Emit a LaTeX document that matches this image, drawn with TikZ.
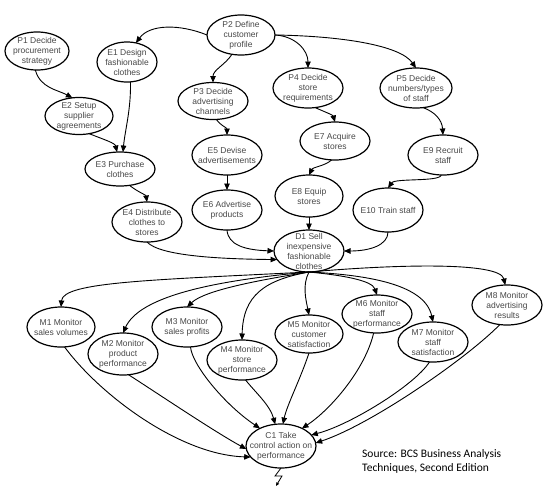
\documentclass[tikz,border=0pt]{standalone}
\usepackage{fontspec}
\setmainfont{Liberation Sans}
\newfontfamily\srcfont{Carlito}
\usetikzlibrary{shapes.geometric,arrows.meta}
\tikzset{
  ell/.style={draw=black, ellipse, line width=1.2pt, inner sep=0pt, outer sep=0pt},
  lbl/.style={font=\fontsize{8.5}{10}\selectfont, text=black!72, align=center, inner sep=0pt},
  arr/.style={line width=0.9pt, -{Triangle[length=6.5pt,width=5.5pt]}},
  src/.style={font=\srcfont\fontsize{11.5}{14.7}\selectfont, align=left, inner sep=0pt, text=black}
}
\newcommand{\enode}[5]{%
  \node[ell, minimum width=#3pt, minimum height=#4pt] (#1) at (#2) {};
  \node[lbl] (#1t) at (#1) {#5};}
\begin{document}
\begin{tikzpicture}[x=1pt,y=1pt]
\useasboundingbox (0,0) rectangle (549,-493);
% nodes
\enode{p1}{37,-51}{64}{38}{P1 Decide\\procurement\\strategy}
\enode{e1}{127,-62}{60}{40}{E1 Design\\fashionable\\clothes}
\enode{p2}{241,-35}{68}{40}{P2 Define\\customer\\profile}
\enode{e2}{79,-116}{68}{37}{E2 Setup\\supplier\\agreements}
\enode{p3}{213,-101}{70}{37}{P3 Decide\\advertising\\channels}
\enode{p4}{308,-88}{70}{40}{P4 Decide\\store\\requirements}
\enode{p5}{416,-88}{72}{40}{P5 Decide\\numbers/types\\of staff}
\enode{e3}{120,-169}{70}{34}{E3 Purchase\\clothes}
\enode{e4}{147,-222}{70}{40}{E4 Distribute\\clothes to\\stores}
\enode{e5}{227,-155}{70}{40}{E5 Devise\\advertisements}
\enode{e6}{227,-210}{70}{40}{E6 Advertise\\products}
\enode{e7}{335,-141}{70}{38}{E7 Acquire\\stores}
\enode{e9}{443,-155}{70}{40}{E9 Recruit\\staff}
\enode{e8}{309,-196}{68}{42}{E8 Equip\\stores}
\enode{e10}{388,-210}{70}{44}{E10 Train staff}
\enode{d1}{309,-251}{70}{42}{D1 Sell\\inexpensive\\fashionable\\clothes}
\enode{m1}{61,-327}{68}{40}{M1 Monitor\\sales volumes}
\enode{m2}{123,-354}{70}{42}{M2 Monitor\\product\\performance}
\enode{m3}{187,-327}{70}{40}{M3 Monitor\\sales profits}
\enode{m4}{242,-360}{70}{40}{M4 Monitor\\store\\performance}
\enode{m5}{309,-334}{68}{38}{M5 Monitor\\customer\\satisfaction}
\enode{m6}{377,-314}{70}{38}{M6 Monitor\\staff\\performance}
\enode{m7}{433,-342}{70}{40}{M7 Monitor\\staff\\satisfaction}
\enode{m8}{507,-305}{70}{40}{M8 Monitor\\advertising\\results}
\enode{c1}{281,-446}{70}{44}{C1 Take\\control action on\\performance}
\node[src, anchor=north west] (src) at (362,-449) {Source: BCS Business Analysis\\Techniques, Second Edition};
% upper edges
\draw[arr] (p2.west) .. controls (180,-24) and (150,-24) .. (e1.65);
\draw[arr] (p2.-115) .. controls (225,-65) and (213,-70) .. (p3.north);
\draw[arr] (p2.east) .. controls (295,-36) and (308,-50) .. (p4.north);
\draw[arr] (p2.east) .. controls (340,-36) and (400,-45) .. (p5.north);
\draw[arr] (p1.-95) .. controls (40,-88) and (58,-90) .. (e2.110);
\draw[arr] (e2.-60) .. controls (105,-140) and (115,-143) .. (e3.100);
\draw[arr] (e1.-80) .. controls (131,-110) and (125,-130) .. (e3.80);
\draw[arr] (e3.-60) .. controls (138,-192) and (146,-195) .. (e4.north);
\draw[arr] (e4.south) .. controls (160,-256) and (220,-259) .. (d1.195);
\draw[arr] (e6.south) .. controls (228,-245) and (245,-250) .. (d1.west);
\draw[arr] (e10.south) .. controls (388,-245) and (370,-251) .. (d1.east);
\draw[arr] (e8.south) -- (d1.north);
\draw[arr] (e7.-100) .. controls (325,-166) and (313,-167) .. (e8.north);
\draw[arr] (e9.-95) .. controls (440,-182) and (395,-178) .. (e10.north);
\draw[arr] (p4.-70) .. controls (325,-112) and (333,-115) .. (e7.north);
\draw[arr] (p5.-70) .. controls (435,-112) and (442,-120) .. (e9.north);
\draw[arr] (p3.-80) .. controls (220,-125) and (227,-128) .. (e5.north);
\draw[arr] (e5.south) -- (e6.north);
% D1 to monitors
\draw[arr] (d1.south) .. controls (150,-280) and (63,-282) .. (m1.north);
\draw[arr] (d1.south) .. controls (220,-280) and (140,-295) .. (m2.north);
\draw[arr] (d1.south) .. controls (260,-280) and (205,-290) .. (m3.north);
\draw[arr] (d1.south) .. controls (265,-280) and (243,-295) .. (m4.north);
\draw[arr] (d1.south) .. controls (302,-285) and (306,-300) .. (m5.north);
\draw[arr] (d1.south) .. controls (340,-275) and (372,-280) .. (m6.north);
\draw[arr] (d1.south) .. controls (370,-275) and (425,-285) .. (m7.north);
\draw[arr] (d1.south) .. controls (400,-264) and (500,-262) .. (m8.95);
% monitors to C1
\draw[arr] (m1.-80) .. controls (100,-395) and (180,-455) .. (c1.200);
\draw[arr] (m2.-75) .. controls (160,-395) and (215,-432) .. (c1.185);
\draw[arr] (m3.-80) .. controls (192,-365) and (225,-405) .. (c1.140);
\draw[arr] (m4.-80) .. controls (255,-392) and (270,-405) .. (c1.105);
\draw[arr] (m5.south) .. controls (300,-380) and (287,-405) .. (c1.85);
\draw[arr] (m6.-100) .. controls (365,-370) and (330,-410) .. (c1.40);
\draw[arr] (m7.-100) .. controls (415,-385) and (350,-425) .. (c1.20);
\draw[arr] (m8.-110) .. controls (465,-360) and (370,-425) .. (c1.5);
% lightning
\draw[line width=0.8pt, -{Triangle[length=3.5pt,width=3pt]}] (c1.south) -- ++(-6,-8) -- ++(7,0) -- ++(-6,-10);
\end{tikzpicture}
\end{document}
